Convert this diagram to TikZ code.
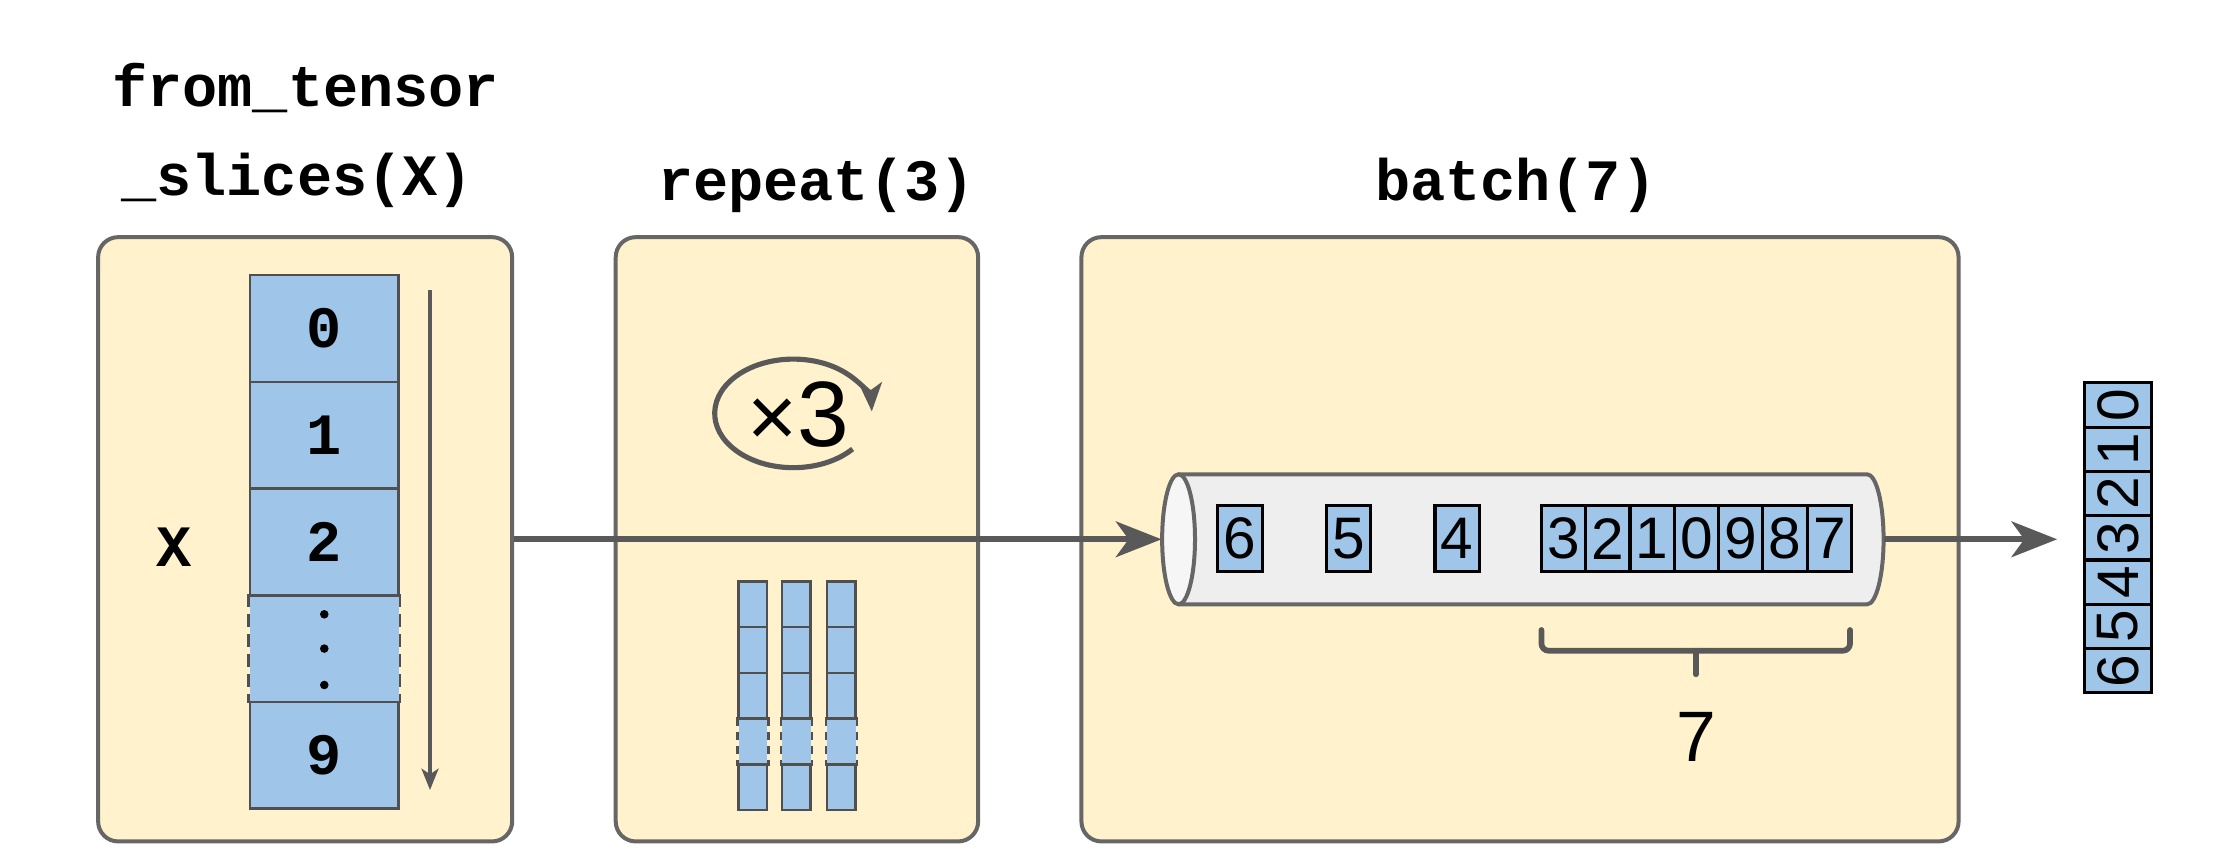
\documentclass[tikz,border=0pt]{standalone}
\usepackage{fontspec}
\setmainfont{Liberation Sans}
\setsansfont{Liberation Sans}
\setmonofont{Liberation Mono}
\usetikzlibrary{arrows.meta}
\definecolor{boxfill}{HTML}{FFF2CC}
\definecolor{boxline}{HTML}{666666}
\definecolor{cellfill}{HTML}{9FC5E8}
\definecolor{cellline}{HTML}{505050}
\definecolor{arrowgray}{HTML}{595959}
\definecolor{cylfill}{HTML}{EEEEEE}
\definecolor{cylend}{HTML}{F6F6F6}
\definecolor{cylline}{HTML}{666666}
\begin{document}
\begin{tikzpicture}[x=1pt,y=1pt,
  stage/.style={draw=boxline, line width=2.8pt, fill=boxfill, rounded corners=14pt, inner sep=0pt},
  title/.style={font=\ttfamily\bfseries\fontsize{41}{49}\selectfont, inner sep=0pt, anchor=base},
  mcell/.style={draw=cellline, line width=1.8pt, fill=cellfill, inner sep=0pt, minimum width=104pt, minimum height=74.7pt, font=\ttfamily\bfseries\fontsize{41}{49}\selectfont},
  scell/.style={draw=cellline, line width=1.8pt, fill=cellfill, inner sep=0pt, minimum width=20pt, minimum height=32pt},
  qcell/.style={draw=black, line width=2.2pt, fill=cellfill, inner sep=0pt, minimum width=31pt, minimum height=46pt, font=\sffamily\fontsize{41}{49}\selectfont},
  rcell/.style={qcell, rotate=90, minimum width=31pt, minimum height=47pt},
  flow/.style={draw=arrowgray, line width=4pt, -{Stealth[length=32pt,width=25pt,inset=9pt]}},
  thinarrow/.style={draw=arrowgray, line width=2.2pt, -{Stealth[length=15pt,width=12pt,inset=4pt]}},
  loopline/.style={draw=arrowgray, line width=3.6pt, -{Stealth[length=20pt,width=16pt,inset=5pt]}},
  bracket/.style={draw=arrowgray, line width=4pt, rounded corners=5pt, line cap=round}
]
\fill[white] (0,0) rectangle (1568,-605);
\useasboundingbox (0,0) rectangle (1568,-605);

% stage boxes
\node[stage, minimum width=289.8pt, minimum height=423pt] (fts) at (213.6,-377.5) {};
\node[stage, minimum width=253.7pt, minimum height=423pt] (rep) at (557.85,-377.5) {};
\node[stage, minimum width=614pt, minimum height=423pt] (bat) at (1064,-377.5) {};

% titles
\node[title] (t1a) at (214,-74.5) {from\_tensor};
\node[title] (t1b) at (208,-137) {\_slices(X)};
\node[title] (t2) at (571.5,-140) {repeat(3)};
\node[title] (t3) at (1061,-140) {batch(7)};

% tensor column
\node[mcell, draw=none] (cd) at (227,-454.05) {};
\draw[cellline, line width=1.8pt, dash pattern=on 9pt off 5pt] (cd.north west) -- (cd.south west);
\draw[cellline, line width=1.8pt, dash pattern=on 9pt off 5pt] (cd.north east) -- (cd.south east);
\node[mcell] (c0) at (227,-229.95) {0};
\node[mcell] (c1) at (227,-304.65) {1};
\node[mcell] (c2) at (227,-379.35) {2};
\node[mcell] (c9) at (227,-528.75) {9};
\fill (227,-430) circle (3);
\fill (227,-454) circle (3);
\fill (227,-479.5) circle (3);
\node[font=\ttfamily\bfseries\fontsize{41}{49}\selectfont, inner sep=0pt] (xlab) at (122,-383) {X};
\coordinate (va1) at (301,-203);
\coordinate (va2) at (301,-553);
\draw[thinarrow] (va1) -- (va2);

% repeat
\node[font=\sffamily\fontsize{65}{70}\selectfont, inner sep=0pt] (x3) at (558.5,-290.5) {{\fontsize{60}{64}\selectfont ×}3};
\draw[loopline] (596.8,-314.3) arc[start angle=-41, end angle=-358, x radius=55, y radius=38];
\foreach \cx/\nm in {527/a,557.5/b,589/c}{
  \node[scell, draw=none] (\nm d) at (\cx,-519) {};
  \draw[cellline, line width=1.8pt, dash pattern=on 6pt off 4pt] (\nm d.north west) -- (\nm d.south west);
  \draw[cellline, line width=1.8pt, dash pattern=on 6pt off 4pt] (\nm d.north east) -- (\nm d.south east);
  \foreach \cy/\k in {423/1,455/2,487/3,551/5}{
    \node[scell] (\nm\k) at (\cx,-\cy) {};
  }
}

% batch cylinder
\node[inner sep=0pt, minimum width=505.5pt, minimum height=91pt] (cyl) at (1066,-377.5) {};
\fill[cylfill] (825,-332) -- (1307,-332) arc[start angle=90, end angle=-90, x radius=11.5, y radius=45.5] -- (825,-423) -- cycle;
\draw[cylline, line width=2.8pt] (825,-332) -- (1307,-332) arc[start angle=90, end angle=-90, x radius=11.5, y radius=45.5] -- (825,-423);
\draw[cylline, line width=2.8pt, fill=cylend] (825,-377.5) ellipse[x radius=11.5, y radius=45.5];
\node[qcell] (q6) at (868,-377) {6};
\node[qcell] (q5) at (944,-377) {5};
\node[qcell] (q4) at (1020,-377) {4};
\foreach \d [count=\i from 0] in {3,2,1,0,9,8,7}{
  \node[qcell] (g\i) at ({1094.5+31*\i},-377) {\d};
}
\draw[bracket] (1079,-441) -- (1079,-455.5) -- (1295,-455.5) -- (1295,-441);
\draw[bracket, rounded corners=0pt] (1187,-455.5) -- (1187,-472);
\node[font=\sffamily\fontsize{50}{56}\selectfont, inner sep=0pt] (blabel) at (1187.5,-516) {7};

% output strip
\foreach \d [count=\i from 0] in {0,1,2,3,4,5,6}{
  \node[rcell] (o\i) at (1482.5,{-283.5-31*\i}) {\d};
}

% connectors
\coordinate (outtip) at (1440,-377.5);
\draw[flow] (fts.east |- cyl.west) -- (cyl.west);
\draw[flow] (cyl.east) -- (outtip);
\end{tikzpicture}
\end{document}
